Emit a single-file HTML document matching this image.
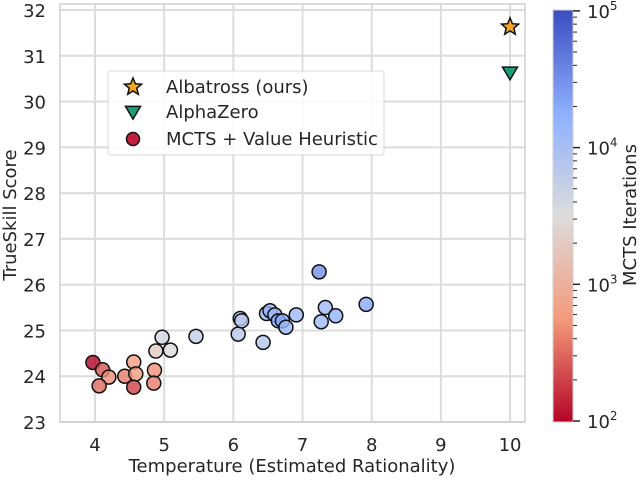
<!DOCTYPE html>
<html><head><meta charset="utf-8"><style>
body{margin:0;background:#fff;}
svg text{font-family:"DejaVu Sans","Liberation Sans",sans-serif;fill:#262626;}
</style></head><body>
<svg id="chart" width="640" height="477" viewBox="0 0 640 477" xmlns="http://www.w3.org/2000/svg">
<defs>
<linearGradient id="cb" x1="0" y1="1" x2="0" y2="0">
<stop offset="0" stop-color="#b40426"/><stop offset="0.25" stop-color="#f49a7b"/><stop offset="0.5" stop-color="#dddcdc"/><stop offset="0.75" stop-color="#8db0fe"/><stop offset="1" stop-color="#3b4cc0"/>
</linearGradient>
</defs>
<g id="grid"></g><g id="marks"></g><g id="axes"></g>
</svg>
<script>
const temps=[3.97,4.11,4.2,4.06,4.43,4.56,4.59,4.56,4.86,4.85,4.88,4.97,5.09,5.46,6.07,6.1,6.12,6.43,6.48,6.53,6.6,6.65,6.71,6.76,6.91,7.24,7.33,7.27,7.48,7.92];
const scores=[24.3,24.14,23.98,23.79,24.0,24.31,24.05,23.76,24.13,23.85,24.55,24.85,24.57,24.87,24.92,25.26,25.21,24.74,25.37,25.43,25.34,25.21,25.21,25.07,25.34,26.28,25.5,25.19,25.32,25.57];
const logIters=[2.0,2.4,2.7,2.5,2.6,2.8,2.8,2.3,2.7,2.6,3.3,3.6,3.5,3.75,3.85,3.9,3.85,3.9,4.1,4.2,4.1,4.3,4.3,4.1,4.1,4.5,4.1,4.1,4.2,4.3];
const albatross=[10,31.63];
const alphazero=[10,30.63];
const xTicks=[4,5,6,7,8,9,10];
const yTicks=[23,24,25,26,27,28,29,30,31,32];
const cbTicks=[2,3,4,5];
const NS="http://www.w3.org/2000/svg";
const X0=60,X1=525,Y0=4,Y1=422;
const xs=v=>95+(v-4)*69.17;
const ys=v=>422-(v-23)*45.78;
const cbY=v=>421-(v-2)*136.7;
function mk(t,a,p){const e=document.createElementNS(NS,t);for(const k in a)e.setAttribute(k,a[k]);(p||document.getElementById('chart')).appendChild(e);return e;}
const stops=[[0,[59,76,192]],[0.25,[141,176,254]],[0.5,[221,220,220]],[0.75,[244,154,123]],[1,[180,4,38]]];
function cmap(l){let t=1-(l-2)/3;t=Math.max(0,Math.min(1,t));for(let i=0;i<4;i++){const[a,c]=stops[i],[b,d]=stops[i+1];if(t<=b){const f=(t-a)/(b-a);return`rgb(${c.map((v,j)=>Math.round(v+(d[j]-v)*f)).join(',')})`;}}return'rgb(180,4,38)';}
const G=document.getElementById('grid'),M=document.getElementById('marks'),A=document.getElementById('axes');
xTicks.forEach(v=>{const l=mk('line',{x1:xs(v),x2:xs(v),y1:Y0,y2:Y1,stroke:'#dcdcdc','stroke-width':2},G);


const t=mk('text',{x:xs(v),y:451,'text-anchor':'middle','font-size':18},A);t.textContent=v;

});
yTicks.forEach(v=>{const l=mk('line',{x1:X0,x2:X1,y1:ys(v),y2:ys(v),stroke:'#dcdcdc','stroke-width':2},G);


const t=mk('text',{x:46,y:ys(v)+7,'text-anchor':'end','font-size':18},A);t.textContent=v;

});
const fr=mk('rect',{x:X0,y:Y0,width:X1-X0,height:Y1-Y0,fill:'none',stroke:'#d0d0d0','stroke-width':1.5},A);


temps.forEach((tv,i)=>{const c=mk('circle',{cx:xs(tv),cy:ys(scores[i]),r:7,fill:cmap(logIters[i]),'fill-opacity':0.8,stroke:'#111','stroke-width':1.5},M);

});
function star(cx,cy,R,r){let p=[];for(let k=0;k<10;k++){const a=-Math.PI/2+k*Math.PI/5,rr=k%2?r:R;p.push((cx+rr*Math.cos(a)).toFixed(1)+','+(cy+rr*Math.sin(a)).toFixed(1));}return p.join(' ');}
function tri(cx,cy,s){return `${cx-s},${cy-s*0.75} ${cx+s},${cy-s*0.75} ${cx},${cy+s*0.95}`;}
const st=mk('polygon',{points:star(xs(albatross[0]),ys(albatross[1]),9,4),fill:'#f5a623',stroke:'#111','stroke-width':1.5},M);


const tr=mk('polygon',{points:tri(xs(alphazero[0]),ys(alphazero[1]),7.5),fill:'#1a9e77',stroke:'#111','stroke-width':1.5},M);


const lg=mk('g',{},A);


mk('rect',{x:108,y:71,width:276,height:84,rx:3,fill:'rgba(255,255,255,0.85)',stroke:'#d8d8d8'},lg);
mk('polygon',{points:star(133,87,9,4),fill:'#f5a623',stroke:'#111','stroke-width':1.5},lg);
mk('polygon',{points:tri(133,112,7.5),fill:'#1a9e77',stroke:'#111','stroke-width':1.5},lg);
mk('circle',{cx:133,cy:139,r:6.5,fill:'#c0203a',stroke:'#111','stroke-width':1.5},lg);
[['Albatross (ours)',93],['AlphaZero',118],['MCTS + Value Heuristic',145]].forEach(([s,y])=>{const t=mk('text',{x:166,y:y,'font-size':18},lg);t.textContent=s;

});
const cb=mk('rect',{x:553,y:10,width:20,height:412,fill:'url(#cb)',stroke:'#d0d0d0'},A);


cbTicks.forEach(v=>{mk('line',{x1:573,x2:580,y1:cbY(v),y2:cbY(v),stroke:'#262626','stroke-width':1.5},A);
const t=mk('text',{x:587,y:cbY(v)+7,'font-size':18},A);t.innerHTML='10<tspan dy="-8" font-size="12">'+v+'</tspan>';


if(v<5)for(let m=2;m<10;m++){const y=cbY(v+Math.log10(m));mk('line',{x1:573,x2:577,y1:y,y2:y,stroke:'#262626','stroke-width':1},A);}});
const xl=mk('text',{x:292,y:472,'text-anchor':'middle','font-size':18},A);xl.textContent='Temperature (Estimated Rationality)';


const yl=mk('text',{x:16,y:215,'text-anchor':'middle','font-size':18,transform:'rotate(-90 16 215)'},A);yl.textContent='TrueSkill Score';


const cl=mk('text',{x:636,y:215,'text-anchor':'middle','font-size':18,transform:'rotate(-90 636 215)'},A);cl.textContent='MCTS Iterations';


</script>
</body></html>
